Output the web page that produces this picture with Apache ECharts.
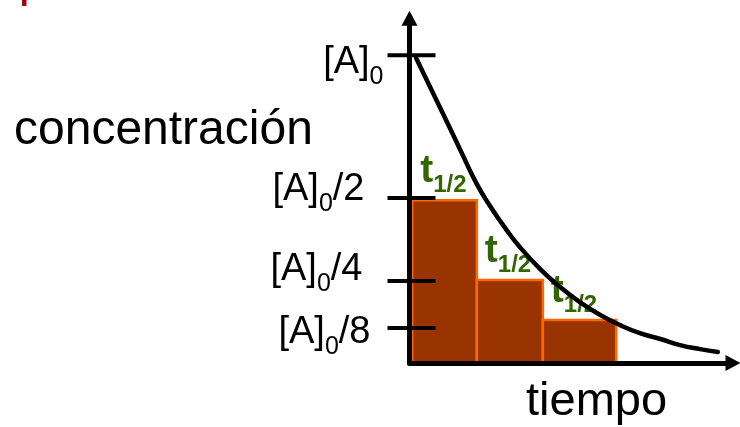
<!DOCTYPE html>
<html>
<head>
<meta charset="utf-8">
<script src="https://cdn.jsdelivr.net/npm/echarts@6/dist/echarts.min.js"></script>
<style>
  html, body { margin: 0; padding: 0; background: #fff; }
  #chart { width: 740px; height: 427px; }
</style>
</head>
<body>
<div id="chart"></div>
<script>
// ticks on the concentration axis (schematic)
var tickValues = [1.0, 0.536, 0.266, 0.114];
var tickSuffix = ['', '/2', '/4', '/8'];

// half-life blocks: start time, end time, concentration
var barStart = [0.04, 1.02, 2.02];
var barEnd = [1.02, 2.02, 3.13];
var barConc = [0.529, 0.270, 0.140];

// decay curve
var curveTime = [0.10, 0.46, 0.77, 1.01, 1.22, 1.45, 1.67, 1.98, 2.28, 2.58, 2.89, 3.19, 3.49, 3.80, 4.10, 4.40, 4.67];
var curveConc = [0.991, 0.831, 0.692, 0.585, 0.510, 0.438, 0.377, 0.305, 0.247, 0.198, 0.156, 0.123, 0.097, 0.078, 0.058, 0.045, 0.036];

var FONT = "'Liberation Sans', Arial, sans-serif";
// small nudges so each tick label sits where it does in the slide
var labelNudge = [[-26, 7], [-45, -8], [-47, -12], [-39, 5]];

var chart = echarts.init(document.getElementById('chart'));

var option = {
    animation: false,
    grid: { left: 409.5, right: 7, top: 18.2, bottom: 64 },
    xAxis: {
        type: 'value', min: 0, max: 4.9, z: 10,
        axisLine: { show: true, symbol: ['none', 'triangle'], symbolSize: [16, 15], lineStyle: { color: '#000', width: 5 } },
        axisTick: { show: false }, axisLabel: { show: false }, splitLine: { show: false }
    },
    yAxis: {
        type: 'value', min: 0, max: 1.12, z: 10,
        axisLine: { show: true, symbol: ['none', 'triangle'], symbolSize: [16, 15], lineStyle: { color: '#000', width: 5 } },
        axisTick: { show: false }, axisLabel: { show: false }, splitLine: { show: false }
    },
    graphic: [
        { type: 'rect', shape: { x: 22, y: 0, width: 4.5, height: 6 }, style: { fill: '#a00a0a' } },
        { type: 'text', style: { text: 'concentración', x: 14, y: 130.5, font: '48px ' + FONT, fill: '#000', verticalAlign: 'middle' } },
        { type: 'text', style: { text: 'tiempo', x: 526, y: 401.7, font: '47px ' + FONT, fill: '#000', verticalAlign: 'middle' } }
    ],
    series: [
        {
            type: 'custom',
            name: 'bloques',
            z: 2,
            data: barStart.map(function (s, i) { return [s, barEnd[i], barConc[i]]; }),
            renderItem: function (params, api) {
                var p0 = api.coord([api.value(0), api.value(2)]);
                var p1 = api.coord([api.value(1), 0]);
                return {
                    type: 'group',
                    children: [
                        {
                            type: 'rect',
                            shape: { x: p0[0], y: p0[1], width: p1[0] - p0[0], height: p1[1] - p0[1] },
                            style: { fill: '#993300', stroke: '#ff6600', lineWidth: 2.5 }
                        },
                        {
                            type: 'text',
                            x: p0[0] + 8,
                            y: p0[1] - 29,
                            style: {
                                text: '{t|t}{s|1/2}',
                                align: 'left',
                                verticalAlign: 'middle',
                                rich: {
                                    t: { fontSize: 39, fontFamily: FONT, fontWeight: 'bold', lineHeight: 38, fill: '#336600' },
                                    s: { fontSize: 24, fontFamily: FONT, fontWeight: 'bold', height: 9, lineHeight: 9, verticalAlign: 'bottom', fill: '#336600' }
                                }
                            }
                        }
                    ]
                };
            }
        },
        {
            type: 'line',
            name: 'curva',
            z: 3,
            data: curveTime.map(function (t, i) { return [t, curveConc[i]]; }),
            smooth: 0.5,
            symbol: 'none',
            lineStyle: { color: '#000', width: 4.5, cap: 'round' }
        },
        {
            type: 'custom',
            name: 'marcas',
            z: 12,
            data: tickValues.map(function (v, i) { return [0, v, i]; }),
            renderItem: function (params, api) {
                var p = api.coord([0, api.value(1)]);
                var i = api.value(2);
                var suf = tickSuffix[i];
                var txt = '{m|[A]}{s|0}' + (suf ? '{m|' + suf + '}' : '');
                return {
                    type: 'group',
                    children: [
                        {
                            type: 'line',
                            shape: { x1: p[0] - 22, y1: p[1], x2: p[0] + 26, y2: p[1] },
                            style: { stroke: '#000', lineWidth: 4 }
                        },
                        {
                            type: 'text',
                            x: p[0] + labelNudge[i][0],
                            y: p[1] + labelNudge[i][1],
                            style: {
                                text: txt,
                                align: 'right',
                                verticalAlign: 'middle',
                                rich: {
                                    m: { fontSize: 38, fontFamily: FONT, lineHeight: 38, fill: '#000' },
                                    s: { fontSize: 25, fontFamily: FONT, height: 9, lineHeight: 9, verticalAlign: 'bottom', fill: '#000' }
                                }
                            }
                        }
                    ]
                };
            }
        }
    ]
};

chart.setOption(option);
</script>
</body>
</html>
